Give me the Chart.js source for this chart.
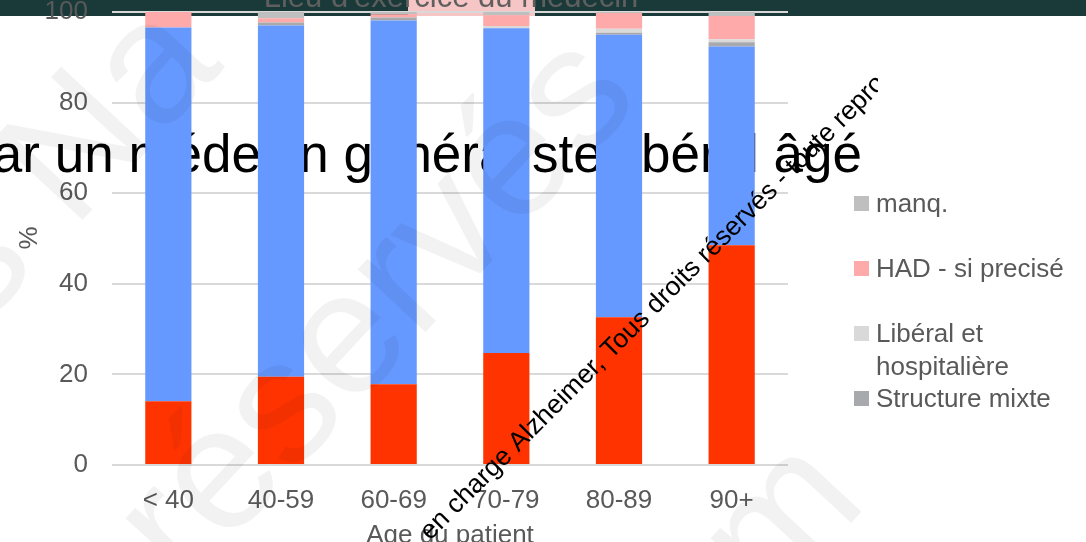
<!DOCTYPE html>
<html>
<head>
<meta charset="utf-8">
<script src="https://cdn.jsdelivr.net/npm/chart.js@4.4.1/dist/chart.umd.min.js"></script>
<style>
  html, body { margin: 0; padding: 0; background: #ffffff; overflow: hidden; }
  #wrap { position: relative; width: 1086px; height: 542px; }
  canvas { display: block; }
</style>
</head>
<body>
<div id="wrap"><canvas id="chart" width="1086" height="542"></canvas></div>
<script>
// Age groups of the patients
const categories = ['< 40', '40-59', '60-69', '70-79', '80-89', '90+'];

// Share of patients (%) by the doctor's place of practice, stacked bottom to top
const hospitaliere        = [14.1, 19.5, 17.8, 24.7, 32.6, 48.5];
const liberal             = [82.5, 77.5, 80.3, 71.7, 62.4, 43.9];
const structureMixte      = [0.0, 0.7, 0.7, 0.0, 0.4, 0.9];
const liberalHospitaliere = [0.0, 0.0, 0.0, 0.5, 0.9, 0.7];
const hadPrecise          = [3.4, 0.9, 0.7, 2.4, 3.5, 5.1];
const manquant            = [0.0, 1.4, 0.5, 0.7, 0.2, 0.9];

// Y axis tick values
const yTickValues = [0, 20, 40, 60, 80, 100];

// Legend entries shown beside the plot (label lines per entry)
const legendEntries = [
  { series: 'manq.', lines: ['manq.'] },
  { series: 'HAD - si precisé', lines: ['HAD - si precisé'] },
  { series: 'Libéral et hospitalière', lines: ['Libéral et', 'hospitalière'] },
  { series: 'Structure mixte', lines: ['Structure mixte'] }
];

// Text blocks of the slide
const slideTitle = "Lieu d'exercice du médecin";
const headline = 'par un médecin généraliste libéral âgé';
const xAxisTitle = 'Age du patient';
const yAxisTitle = '%';
const notice = 'en charge Alzheimer, Tous droits réservés - toute reproduction';

const FONT = "'Liberation Sans', Arial, Helvetica, sans-serif";
const TEXT_GREY = '#595959';
Chart.defaults.font.family = FONT;

const datasets = [
  { label: 'Hospitalière', data: hospitaliere, backgroundColor: '#ff3300' },
  { label: 'Libéral', data: liberal, backgroundColor: '#6699ff' },
  { label: 'Structure mixte', data: structureMixte, backgroundColor: '#a7a9ac' },
  { label: 'Libéral et hospitalière', data: liberalHospitaliere, backgroundColor: '#d9d9d9' },
  { label: 'HAD - si precisé', data: hadPrecise, backgroundColor: '#ffaaaa' },
  { label: 'manq.', data: manquant, backgroundColor: '#bfbfbf' }
];

// Dark header band with the slide title
const headerPlugin = {
  id: 'header',
  beforeDraw(chart) {
    const ctx = chart.ctx;
    ctx.save();
    ctx.fillStyle = '#1a3a3a';
    ctx.fillRect(0, 0, chart.width, 16);
    ctx.fillStyle = '#f6c6c6';
    ctx.fillRect(408, 0, 127, 16);
    ctx.font = '31px ' + FONT;
    ctx.fillStyle = '#5f5f5f';
    ctx.textAlign = 'center';
    ctx.textBaseline = 'alphabetic';
    ctx.fillText(slideTitle, 451, 7);
    ctx.restore();
  }
};

// Large headline sitting behind the bars
const headlinePlugin = {
  id: 'headline',
  beforeDatasetsDraw(chart) {
    const ctx = chart.ctx;
    ctx.save();
    ctx.font = '53px ' + FONT;
    ctx.fillStyle = '#000000';
    ctx.textAlign = 'right';
    ctx.textBaseline = 'alphabetic';
    ctx.fillText(headline, 862, 172);
    ctx.restore();
  }
};

// Axis titles and the legend on the right
const decorPlugin = {
  id: 'decor',
  afterDraw(chart) {
    const ctx = chart.ctx;
    const area = chart.chartArea;
    ctx.save();
    ctx.fillStyle = TEXT_GREY;
    ctx.font = '26px ' + FONT;
    ctx.textAlign = 'center';
    ctx.textBaseline = 'alphabetic';
    ctx.fillText(xAxisTitle, (area.left + area.right) / 2, 543);

    ctx.save();
    ctx.translate(37, 238);
    ctx.rotate(-Math.PI / 2);
    ctx.textAlign = 'center';
    ctx.fillText(yAxisTitle, 0, 0);
    ctx.restore();

    // legend
    const boxX = 854, textX = 876, size = 15, lineGap = 33, itemGap = 65;
    let top = 196;
    ctx.textAlign = 'left';
    legendEntries.forEach(entry => {
      const ds = chart.data.datasets.find(d => d.label === entry.series);
      ctx.fillStyle = ds.backgroundColor;
      ctx.fillRect(boxX, top, size, size);
      ctx.fillStyle = TEXT_GREY;
      entry.lines.forEach((line, i) => {
        ctx.fillText(line, textX, top + 16 + i * lineGap);
      });
      top += itemGap;
    });
    ctx.restore();
  }
};

// Watermark lettering and the rotated copyright notice
const watermarkPlugin = {
  id: 'watermark',
  afterDraw(chart) {
    const ctx = chart.ctx;
    ctx.save();
    ctx.beginPath();
    ctx.rect(0, 0, 878, chart.height);
    ctx.clip();

    const ang = -47 * Math.PI / 180;
    ctx.fillStyle = 'rgba(0,0,0,0.05)';
    ctx.font = '175px ' + FONT;
    ctx.textBaseline = 'alphabetic';
    ctx.textAlign = 'left';
    [['s Na', -20, 330], ['réservés', 185, 590], ['m', 770, 610]].forEach(([t, x, y]) => {
      ctx.save();
      ctx.translate(x, y);
      ctx.rotate(ang);
      ctx.fillText(t, 0, 0);
      ctx.restore();
    });

    ctx.fillStyle = '#000000';
    ctx.font = '26.5px ' + FONT;
    ctx.save();
    ctx.translate(430, 541);
    ctx.rotate(-Math.PI / 4);
    ctx.fillText(notice, 0, 0);
    ctx.restore();

    ctx.restore();
  }
};

new Chart(document.getElementById('chart'), {
  type: 'bar',
  data: { labels: categories, datasets },
  options: {
    responsive: false,
    animation: false,
    devicePixelRatio: 1,
    layout: { padding: { left: 0, right: 298, top: 12, bottom: 0 } },
    datasets: { bar: { categoryPercentage: 1.0, barPercentage: 0.41, borderWidth: 0 } },
    plugins: {
      legend: { display: false },
      tooltip: { enabled: false },
      title: { display: false }
    },
    scales: {
      x: {
        stacked: true,
        grid: { display: false },
        border: { display: false },
        ticks: { color: TEXT_GREY, font: { size: 26 }, padding: 12, maxRotation: 0 },
        afterFit(s) { s.height = 77; s.paddingLeft = 0; s.paddingRight = 0; }
      },
      y: {
        stacked: true,
        min: 0,
        max: 100,
        grid: { color: '#d9d9d9', lineWidth: 2, drawTicks: false },
        border: { display: false },
        ticks: { color: TEXT_GREY, font: { size: 26 }, padding: 24 },
        afterBuildTicks(s) { s.ticks = yTickValues.map(v => ({ value: v })); },
        afterFit(s) { s.width = 112; s.paddingTop = 0; s.paddingBottom = 0; }
      }
    }
  },
  plugins: [headerPlugin, headlinePlugin, decorPlugin, watermarkPlugin]
});
</script>
</body>
</html>
